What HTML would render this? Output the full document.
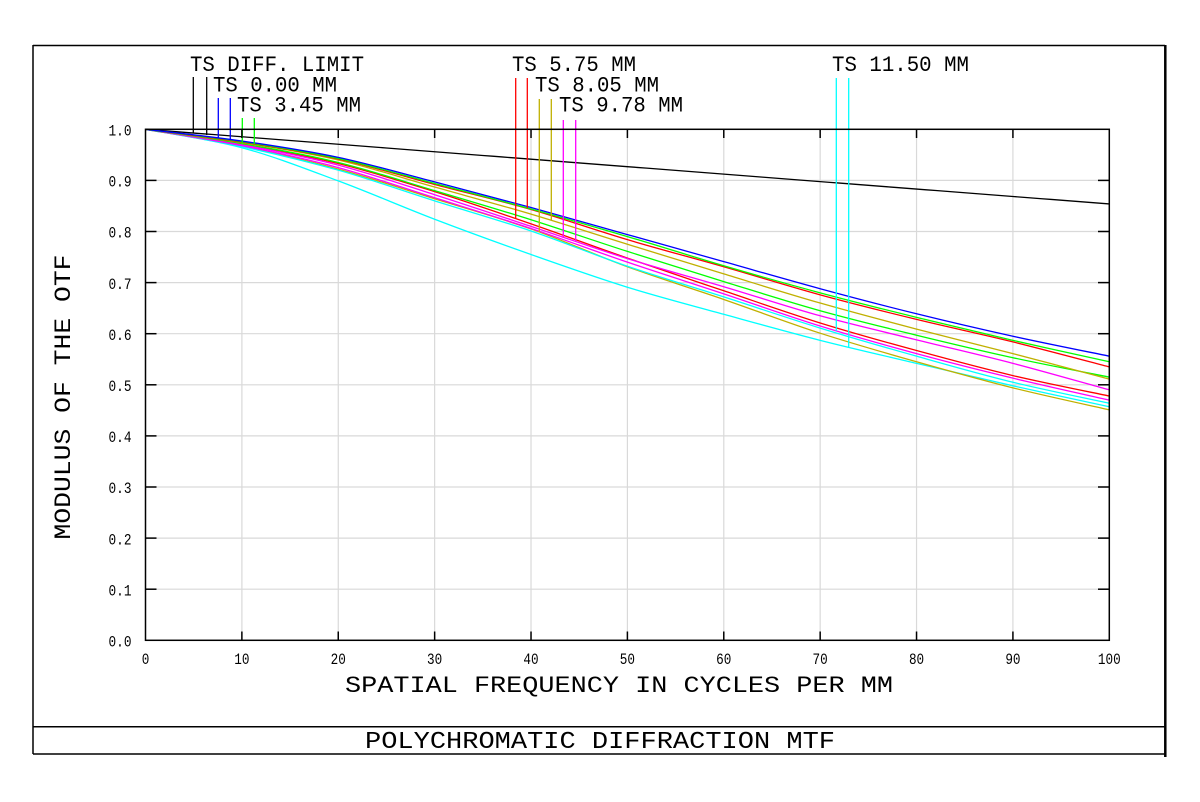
<!DOCTYPE html>
<html><head><meta charset="utf-8">
<style>
html,body{margin:0;padding:0;background:#fff;}
svg{display:block;}
text{font-family:"Liberation Mono","DejaVu Sans Mono",monospace;fill:#000;}
</style></head>
<body>
<svg id="s" width="1200" height="802" viewBox="0 0 1200 802" xmlns="http://www.w3.org/2000/svg">
<rect x="0" y="0" width="1200" height="802" fill="#fff"/>
<!-- outer frame -->
<line x1="33" y1="45.5" x2="1165" y2="45.5" stroke="#000" stroke-width="1.5"/>
<line x1="33" y1="45" x2="33" y2="754" stroke="#000" stroke-width="1.5"/>
<line x1="1165.3" y1="45" x2="1165.3" y2="757" stroke="#000" stroke-width="2.5"/>
<line x1="33" y1="726.7" x2="1165" y2="726.7" stroke="#000" stroke-width="1.5"/>
<line x1="33" y1="754" x2="1165" y2="754" stroke="#000" stroke-width="1.5"/>
<g id="grid" stroke="#d9d9d9" stroke-width="1.2"></g>
<g id="curves" fill="none" stroke-width="1.3"></g>
<g id="leg" stroke-width="1.3"></g>
<rect x="145.5" y="129.3" width="963.8" height="511" fill="none" stroke="#000" stroke-width="1.5"/>
<g id="ticks" stroke="#000" stroke-width="1.5"></g>
<g id="labels" font-size="16"></g>

<!-- legend labels -->
<text x="190" y="71" font-size="22.5" textLength="174" lengthAdjust="spacingAndGlyphs">TS DIFF. LIMIT</text>
<text x="213" y="91.5" font-size="22.5" textLength="124" lengthAdjust="spacingAndGlyphs">TS 0.00 MM</text>
<text x="237" y="111.5" font-size="22.5" textLength="124" lengthAdjust="spacingAndGlyphs">TS 3.45 MM</text>
<text x="512" y="71" font-size="22.5" textLength="124" lengthAdjust="spacingAndGlyphs">TS 5.75 MM</text>
<text x="535" y="91.5" font-size="22.5" textLength="124" lengthAdjust="spacingAndGlyphs">TS 8.05 MM</text>
<text x="559" y="111.5" font-size="22.5" textLength="124" lengthAdjust="spacingAndGlyphs">TS 9.78 MM</text>
<text x="832" y="71" font-size="22.5" textLength="137" lengthAdjust="spacingAndGlyphs">TS 11.50 MM</text>

<!-- axis titles -->
<text x="619" y="692" font-size="23.5" text-anchor="middle" textLength="548" lengthAdjust="spacingAndGlyphs">SPATIAL FREQUENCY IN CYCLES PER MM</text>
<text x="0" y="0" font-size="23.5" text-anchor="middle" textLength="285" lengthAdjust="spacingAndGlyphs" transform="translate(70,397) rotate(-90)">MODULUS OF THE OTF</text>
<text x="600" y="748" font-size="24" text-anchor="middle" textLength="470" lengthAdjust="spacingAndGlyphs">POLYCHROMATIC DIFFRACTION MTF</text>
</svg>
<script>
(function(){
var NS="http://www.w3.org/2000/svg";
function X(f){return 145.5+f*9.638;}
function Y(m){return 640.3-m*511;}
function el(parent,tag,attrs,txt){var e=document.createElementNS(NS,tag);for(var k in attrs)e.setAttribute(k,attrs[k]);if(txt!==undefined)e.textContent=txt;document.getElementById(parent).appendChild(e);return e;}
// grid
for(var i=1;i<10;i++){
 el("grid","line",{x1:X(i*10),y1:129.3,x2:X(i*10),y2:640.3});
 el("grid","line",{x1:145.5,y1:Y(i/10),x2:1109.3,y2:Y(i/10)});
}
// ticks
for(var i=1;i<10;i++){
 el("ticks","line",{x1:145.5,y1:Y(i/10),x2:156.5,y2:Y(i/10)});
 el("ticks","line",{x1:1098,y1:Y(i/10),x2:1109.3,y2:Y(i/10)});
 el("ticks","line",{x1:X(i*10),y1:640.3,x2:X(i*10),y2:631.5});
 el("ticks","line",{x1:X(i*10),y1:129.3,x2:X(i*10),y2:138});
}
// labels
for(var i=0;i<=10;i++){
 var v=(i/10).toFixed(1);
 el("labels","text",{x:131.5,y:Y(i/10)+6.2,"text-anchor":"end",textLength:23,lengthAdjust:"spacingAndGlyphs"},v);
 var s=String(i*10);
 el("labels","text",{x:X(i*10),y:664,"text-anchor":"middle",textLength:(s.length*7.6),lengthAdjust:"spacingAndGlyphs"},s);
}
// curves
function cr(vals){
 var pts=vals.map(function(v,i){return [X(i*10),Y(v)];});
 var d="M"+pts[0][0].toFixed(2)+","+pts[0][1].toFixed(2);
 for(var i=0;i<pts.length-1;i++){
  var p0=pts[Math.max(0,i-1)],p1=pts[i],p2=pts[i+1],p3=pts[Math.min(pts.length-1,i+2)];
  var c1=[p1[0]+(p2[0]-p0[0])/6,p1[1]+(p2[1]-p0[1])/6];
  var c2=[p2[0]-(p3[0]-p1[0])/6,p2[1]-(p3[1]-p1[1])/6];
  d+=" C"+c1[0].toFixed(2)+","+c1[1].toFixed(2)+" "+c2[0].toFixed(2)+","+c2[1].toFixed(2)+" "+p2[0].toFixed(2)+","+p2[1].toFixed(2);
 }
 return d;
}
// diffraction limit
var dd="";
for(var f=0;f<=100;f+=1){
 var s=f/870, m=(2/Math.PI)*(Math.acos(s)-s*Math.sqrt(1-s*s));
 dd+=(f?" L":"M")+X(f).toFixed(2)+","+Y(m).toFixed(2);
}
el("curves","path",{d:dd,stroke:"#000"});
var C={
 cyanL:[1,0.964,0.899,0.824,0.755,0.691,0.638,0.587,0.542,0.498,0.457],
 olive2:[1,0.967,0.922,0.864,0.805,0.731,0.667,0.601,0.545,0.494,0.451],
 cyan1:[1,0.966,0.920,0.860,0.801,0.732,0.672,0.611,0.556,0.505,0.464],
 mag2:[1,0.968,0.925,0.866,0.806,0.740,0.678,0.615,0.561,0.513,0.470],
 red2:[1,0.971,0.933,0.878,0.815,0.748,0.684,0.621,0.567,0.518,0.478],
 mag1:[1,0.970,0.930,0.872,0.810,0.747,0.692,0.635,0.588,0.542,0.490],
 green2:[1,0.972,0.935,0.880,0.823,0.761,0.702,0.645,0.597,0.553,0.515],
 olive1:[1,0.974,0.940,0.887,0.834,0.775,0.717,0.660,0.609,0.561,0.511],
 red1:[1,0.975,0.942,0.892,0.843,0.784,0.731,0.676,0.628,0.584,0.535],
 green1:[1,0.976,0.943,0.894,0.844,0.790,0.733,0.680,0.632,0.587,0.545],
 blue:[1,0.977,0.945,0.897,0.847,0.794,0.741,0.688,0.639,0.595,0.556]
};
var col={cyanL:"#00ffff",olive2:"#c0b000",cyan1:"#00ffff",mag2:"#ff00ff",red2:"#ff0000",mag1:"#ff00ff",green2:"#00ff00",olive1:"#c0b000",red1:"#ff0000",green1:"#00ff00",blue:"#0000ff"};
for(var k in C){el("curves","path",{d:cr(C[k]),stroke:col[k]});}
// legend lines
var L=[[193.3,77,133,"#000"],[206.7,77,135,"#000"],
 [218.3,98,138,"#0000ff"],[230.3,98,139,"#0000ff"],
 [242.3,118,143,"#00ff00"],[254.3,118,144,"#00ff00"],
 [515.7,78,218,"#ff0000"],[527.3,78,208,"#ff0000"],
 [539.3,99,232,"#c0b000"],[551.3,99,220,"#c0b000"],
 [563.3,120,238,"#ff00ff"],[575.7,120,241,"#ff00ff"],
 [836.3,78,331,"#00ffff"],[848.7,78,348,"#00ffff"]];
L.forEach(function(a){el("leg","line",{x1:a[0],y1:a[1],x2:a[0],y2:a[2],stroke:a[3]});});
})();
</script>
</body></html>
